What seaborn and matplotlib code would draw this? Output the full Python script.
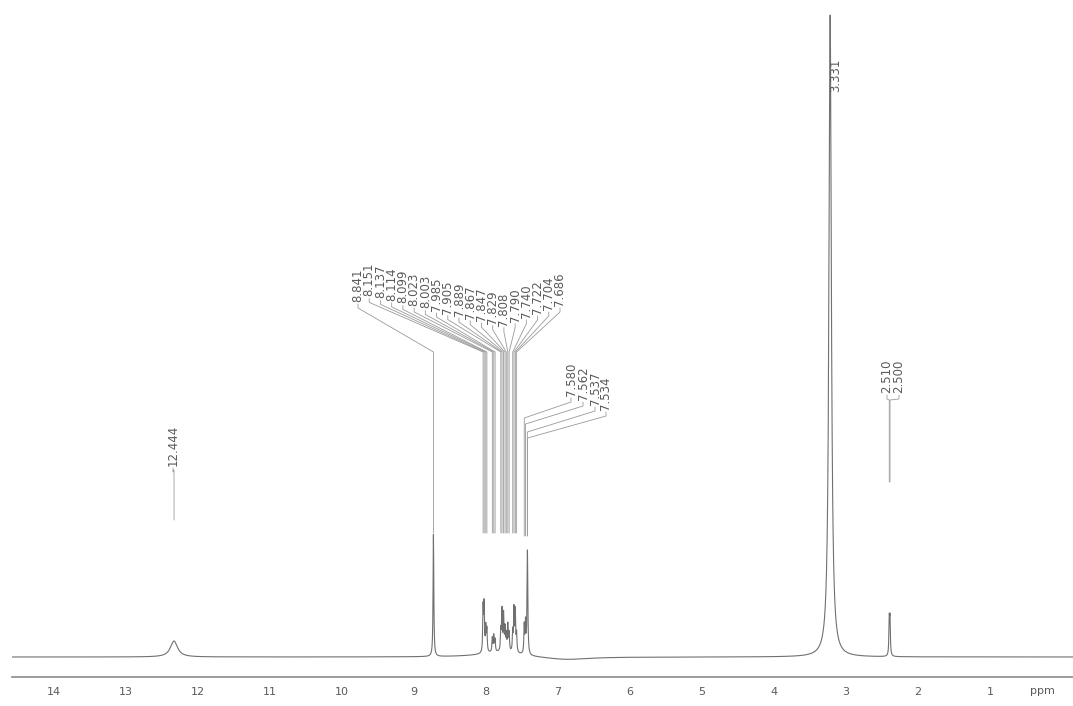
import numpy as np
import pandas as pd
import matplotlib
matplotlib.use("Agg")
import matplotlib.pyplot as plt
import matplotlib.transforms as mtransforms
import seaborn as sns

# peak list: position (ppm), height (px above baseline), half width (ppm)
peak_ppm = [12.444, 8.841,
            8.151, 8.137, 8.114, 8.099, 8.023, 8.003, 7.985,
            7.905, 7.889, 7.867, 7.847, 7.829, 7.808, 7.790,
            7.740, 7.722, 7.704, 7.686,
            7.580, 7.562, 7.537, 7.534,
            3.331, 2.510, 2.500]
peak_height = [16, 122,
               44, 46, 24, 22, 14, 16, 12,
               20, 40, 36, 22, 16, 26, 18,
               20, 42, 40, 18,
               28, 30, 55, 55,
               642, 34, 34]
peak_width = [0.06, 0.006,
              0.006, 0.006, 0.006, 0.006, 0.006, 0.006, 0.006,
              0.006, 0.006, 0.006, 0.006, 0.006, 0.006, 0.006,
              0.006, 0.006, 0.006, 0.006,
              0.006, 0.006, 0.006, 0.006,
              0.02, 0.006, 0.006]

# broad baseline features (ppm, height, half width)
hump_ppm = [7.9, 7.0]
hump_height = [5, -3]
hump_width = [0.35, 0.4]

# labelled groups
label_top = ["12.444"]
label_group1 = ["8.841", "8.151", "8.137", "8.114", "8.099", "8.023", "8.003", "7.985",
                "7.905", "7.889", "7.867", "7.847", "7.829", "7.808", "7.790",
                "7.740", "7.722", "7.704", "7.686"]
label_group2 = ["7.580", "7.562", "7.537", "7.534"]
label_water = ["3.331"]
label_dmso = ["2.510", "2.500"]

tick_values = [14, 13, 12, 11, 10, 9, 8, 7, 6, 5, 4, 3, 2, 1]

# pixel helpers (y measured from top of figure, baseline at 657 px)
PX_PER_PPM = 72.0
X14 = 62.0


def px2ppm(px):
    return 14 - (px - X14) / PX_PER_PPM


def py(ypx):
    return 657 - ypx


xl, xr = px2ppm(12), px2ppm(1073)
grid = np.linspace(xr, xl, 40000)
spec = np.zeros_like(grid)
for p, h, w in zip(peak_ppm, peak_height, peak_width):
    spec += h / (1 + ((grid - p) / w) ** 2)
for p, h, w in zip(hump_ppm, hump_height, hump_width):
    spec += h / (1 + ((grid - p) / w) ** 2)
df = pd.DataFrame({"ppm": grid, "intensity": spec})

sns.set_style("white")
plt.rcParams["font.family"] = ["DejaVu Sans"]
fig = plt.figure(figsize=(10.73, 7.06), dpi=100)
ax = fig.add_axes([12 / 1073, 29 / 706, 1061 / 1073, 677 / 706])

sns.lineplot(data=df, x="ppm", y="intensity", ax=ax, color="#707070",
             linewidth=0.8, estimator=None, sort=False)
ax.set_xlim(xl, xr)
ax.set_ylim(-20, 657)

lc = "#9a9a9a"
tc = "#5a5a5a"
fs = 8.5


def draw_group(labels, peaks, lab_px, bottom_px, knee_px, end_px):
    n = len(labels)
    bottom_px = np.broadcast_to(bottom_px, (n,))
    knee_px = np.broadcast_to(knee_px, (n,))
    for lab, pk, lx, b, k in zip(labels, peaks, lab_px, bottom_px, knee_px):
        lxp = px2ppm(lx)
        ax.text(lxp, py(b), lab, rotation=90, ha="center", va="bottom",
                fontsize=fs, color=tc)
        ax.plot([lxp, lxp, pk, pk],
                [py(b + 2), py(b + 6), py(k), py(end_px)],
                color=lc, linewidth=0.6)


# 12.444
draw_group(label_top, [12.444], [173], 466, 470, 520)
# aromatic group 1 (labels sit on a shallow V)
g1_x = np.linspace(358, 560, 19)
g1_bottom = np.interp(g1_x, [358, 370, 503, 560], [302, 296, 326, 306])
draw_group(label_group1, peak_ppm[1:20], g1_x, g1_bottom, 352, 533)
# aromatic group 2
draw_group(label_group2, peak_ppm[20:24], [571, 583, 595, 606],
           [396, 400, 405, 410], [418, 424, 432, 438], 536)
# DMSO
draw_group(label_dmso, [2.510, 2.500], [887, 899], 393, 400, 482)
# water
ax.text(px2ppm(836), py(92), label_water[0], rotation=90, ha="center", va="bottom",
        fontsize=fs, color=tc)

ax.set_xticks(tick_values)
ax.set_xticklabels([str(t) for t in tick_values], fontsize=8, color=tc)
ax.tick_params(axis="x", length=0, pad=7)
shift = mtransforms.ScaledTranslation(-8 / 100, 0, fig.dpi_scale_trans)
for lbl in ax.get_xticklabels():
    lbl.set_transform(lbl.get_transform() + shift)
ax.set_yticks([])
ax.set_xlabel("")
ax.set_ylabel("")
fig.text(1042 / 1073, 1 - 691 / 706, "ppm", ha="center", va="center",
         fontsize=8, color=tc)
for s in ["top", "left", "right"]:
    ax.spines[s].set_visible(False)
ax.spines["bottom"].set_color("#8a8a8a")
ax.spines["bottom"].set_linewidth(1.2)

fig.savefig("out.png", dpi=100)
